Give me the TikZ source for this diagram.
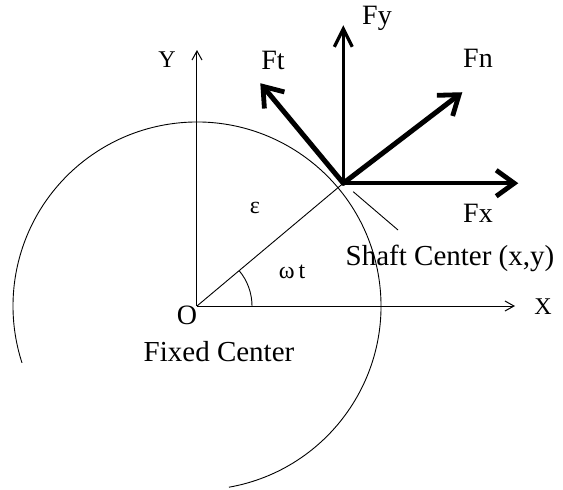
\documentclass[tikz,border=0pt]{standalone}
\usepackage{fontspec}
\setmainfont{Liberation Serif}
\usetikzlibrary{positioning,arrows.meta,calc}
\tikzset{
  axs/.style={-{Straight Barb[length=4.5pt,width=5pt]},line width=0.5pt},
  thn/.style={line width=0.45pt},
  frc/.style={-{Straight Barb[length=9pt,width=13pt,line width=2.4pt]},line width=2.5pt,line cap=round},
  frcy/.style={-{Straight Barb[length=9pt,width=9pt,line width=1.6pt]},line width=1.4pt,line cap=round},
  lbl/.style={font=\fontsize{14.5}{16}\selectfont,inner sep=1pt},
  flbl/.style={font=\fontsize{14}{16}\selectfont,inner sep=1pt},
  sml/.style={font=\fontsize{12}{14}\selectfont,inner sep=1pt},
}
\begin{document}
\begin{tikzpicture}[x=0.5pt,y=0.5pt]
  \useasboundingbox (-197,-183) rectangle (366,306);
  % fixed centre O, shaft centre S
  \coordinate (O) at (0,0);
  \coordinate (S) at (40:191);
  \coordinate (xe) at (318,0);
  \coordinate (ye) at (0,256);
  \draw[thn] (O) ++(-80:184) arc[start angle=-80,end angle=198,radius=184]; % orbit
  \draw[axs] (O) -- (xe);
  \draw[axs] (O) -- (ye);
  \node[sml] (xl) at (346,-1) {X};
  \node[sml] (yl) at (-30,246) {Y};
  \node[sml,font=\fontsize{14}{16}\selectfont] (ol) at (-10,-9) {O};
  \node[lbl] (fc) at (22,-46) {Fixed Center};
  % eccentricity and angle
  \draw[thn] (O) -- (S);
  \draw[thn] (55,0) arc[start angle=0,end angle=40,radius=55];
  \node[sml] (eps) at (58,98) {ε};
  \node[sml] (wt) at (95,34) {ω\,t};
  % force components at S
  \coordinate (fy) at ($(S)+(0,158)$);
  \coordinate (ft) at ($(S)+(-83,100)$);
  \coordinate (fn) at ($(S)+(119,91)$);
  \coordinate (fx) at ($(S)+(175,0)$);
  \draw[frcy] (S) -- (fy);
  \draw[frc] (S) -- (ft);
  \draw[frc] (S) -- (fn);
  \draw[frc,line width=2.1pt] (S) -- (fx);
  \node[flbl] (fyl) at (180,288) {Fy};
  \node[flbl] (ftl) at (76,246) {Ft};
  \node[flbl] (fnl) at (281,248) {Fn};
  \node[flbl] (fxl) at (281,93) {Fx};
  % shaft centre pointer
  \coordinate (ld) at (201,76);
  \draw[thn,shorten <=6.5pt] (S) -- (ld);
  \node[lbl] (sc) at (253,48) {Shaft Center (x,y)};
\end{tikzpicture}
\end{document}
